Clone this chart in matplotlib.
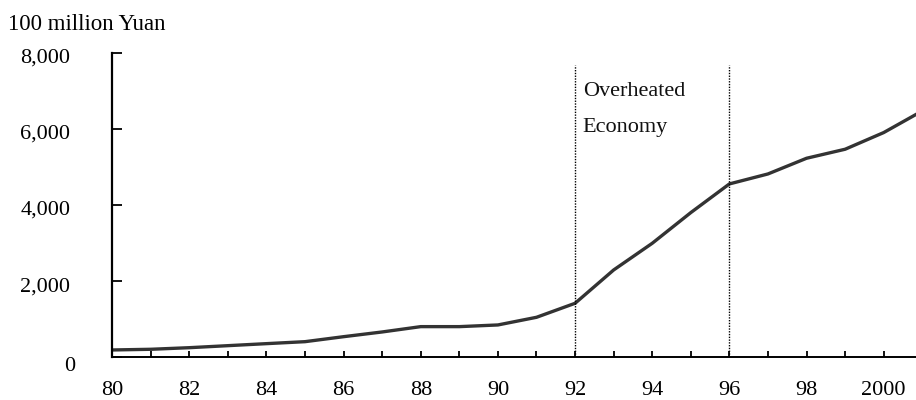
import matplotlib
matplotlib.use("Agg")
import matplotlib.pyplot as plt
from matplotlib.transforms import ScaledTranslation

# data (100 million Yuan)
years = [1980, 1981, 1982, 1983, 1984, 1985, 1986, 1987, 1988, 1989, 1990,
         1991, 1992, 1993, 1994, 1995, 1996, 1997, 1998, 1999, 2000, 2001]
values = [192, 210, 252, 305, 358, 410, 541, 665, 805, 805, 849,
          1050, 1418, 2293, 2994, 3800, 4553, 4815, 5227, 5464, 5902, 6470]
yticks = [0, 2000, 4000, 6000, 8000]
ytick_labels = ["0", "2,000", "4,000", "6,000", "8,000"]
xtick_years = list(range(1980, 2001))
xtick_labels = ["80", "", "82", "", "84", "", "86", "", "88", "", "90", "",
                "92", "", "94", "", "96", "", "98", "", "2000"]
band = [1992, 1996]
band_lines = ["Overheated", "Economy"]
unit_label = "100 million Yuan"

plt.rcParams["font.family"] = ["Liberation Serif", "DejaVu Serif"]

fig = plt.figure(figsize=(9.16, 4.0), dpi=100)
ax = fig.add_axes([0.1224, 0.1068, 1 - 0.1224, 0.8683 - 0.1068])

ax.plot(years, values, color="#333333", linewidth=2.4, solid_joinstyle="round")
ax.vlines(band, 0, 7680, colors="black", linestyles=(0, (1, 1)), linewidth=1.0)
ax.text(band[0] + 0.2, 6865, band_lines[0], ha="left", va="baseline",
        fontsize=16, color="#111111")
ax.text(band[0] + 0.2, 5920, band_lines[1], ha="left", va="baseline",
        fontsize=16, color="#111111")

ax.set_xlim(1980, 1980 + (916 - 112.1) / 38.58)
ax.set_ylim(0, 8000)
ax.set_xticks(xtick_years)
ax.set_xticklabels(xtick_labels, fontsize=16)
ax.set_yticks(yticks)
ax.set_yticklabels(ytick_labels, fontsize=16)
ax.tick_params(axis="x", direction="in", length=4.5, width=1.3, pad=17)
ax.tick_params(axis="y", direction="in", length=7, width=1.3, pad=30)

# labels sit a little below their ticks in the reference
for lab in ax.get_yticklabels():
    dx, dy = (5, -7) if lab.get_text() == "0" else (0, -3)
    lab.set_transform(lab.get_transform() +
                      ScaledTranslation(dx / 100, dy / 100, fig.dpi_scale_trans))

for side in ["top", "right"]:
    ax.spines[side].set_visible(False)
ax.spines["left"].set_linewidth(1.6)
ax.spines["bottom"].set_linewidth(1.4)

fig.text(8 / 916, 1 - 25 / 400, unit_label, ha="left", va="center", fontsize=16.5)

fig.savefig("out.png", dpi=100)
